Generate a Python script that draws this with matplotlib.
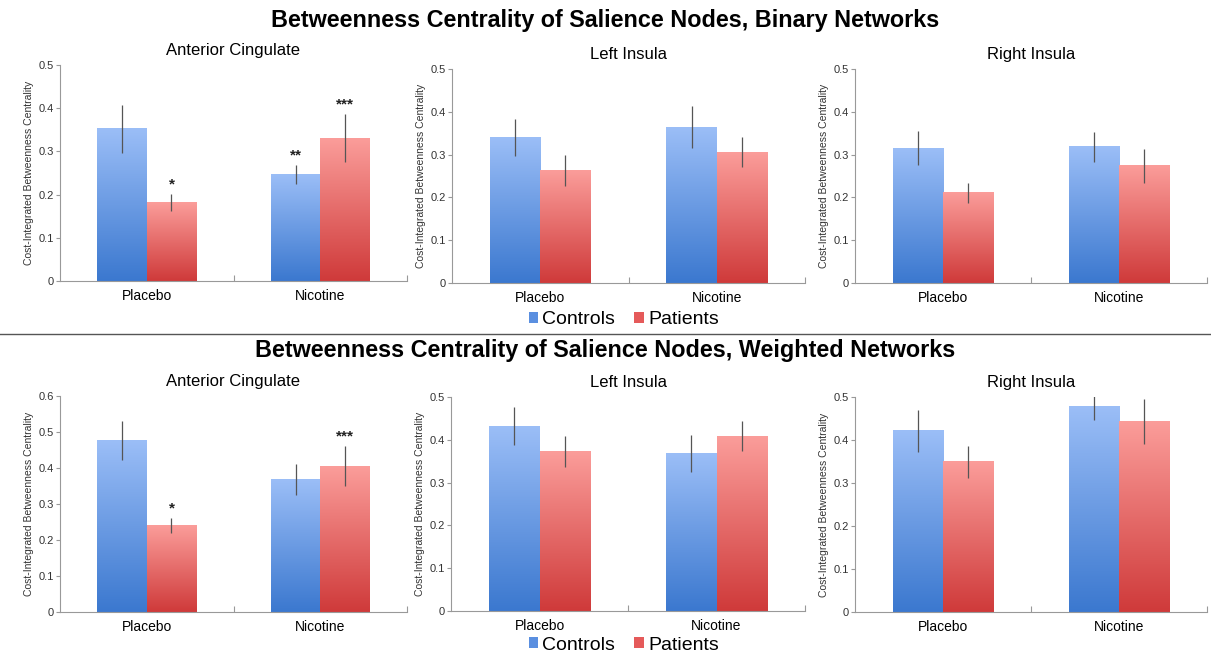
import numpy as np
import matplotlib
matplotlib.use("Agg")
import matplotlib.pyplot as plt
from matplotlib.colors import LinearSegmentedColormap
from matplotlib.patches import Patch

plt.rcParams['font.family'] = ['Liberation Sans', 'DejaVu Sans']

conditions = ['Placebo', 'Nicotine']
regions = ['Anterior Cingulate', 'Left Insula', 'Right Insula']

# binary networks: [placebo, nicotine]
bin_controls = [[0.352, 0.246], [0.340, 0.364], [0.315, 0.318]]
bin_controls_err = [[0.055, 0.022], [0.044, 0.049], [0.039, 0.035]]
bin_patients = [[0.181, 0.331], [0.263, 0.306], [0.211, 0.274]]
bin_patients_err = [[0.020, 0.055], [0.037, 0.035], [0.023, 0.040]]
bin_stars_controls = [['', '**'], ['', ''], ['', '']]
bin_stars_patients = [['*', '***'], ['', ''], ['', '']]

# weighted networks
w_controls = [[0.476, 0.368], [0.432, 0.368], [0.421, 0.478]]
w_controls_err = [[0.054, 0.042], [0.044, 0.043], [0.048, 0.032]]
w_patients = [[0.241, 0.405], [0.372, 0.408], [0.349, 0.443]]
w_patients_err = [[0.021, 0.055], [0.036, 0.035], [0.038, 0.052]]
w_stars_controls = [['', ''], ['', ''], ['', '']]
w_stars_patients = [['*', '***'], ['', ''], ['', '']]

bin_ymax = [0.5, 0.5, 0.5]
w_ymax = [0.6, 0.5, 0.5]

W, H = 1211, 660
blue_cmap = LinearSegmentedColormap.from_list('b', ['#3b78cf', '#9bbef7'])
red_cmap = LinearSegmentedColormap.from_list('r', ['#cf3a3a', '#fb9d9a'])
grad = np.linspace(0, 1, 256).reshape(-1, 1)

fig = plt.figure(figsize=(W / 100, H / 100), dpi=100)


def rect(l, r, top, bot):
    return [l / W, 1 - bot / H, (r - l) / W, (bot - top) / H]


def draw_panel(pos, title, ctrl, ctrl_e, pat, pat_e, s_c, s_p, ymax):
    ax = fig.add_axes(pos)
    x = np.arange(len(conditions))
    bw = 0.285
    for vals, errs, stars, off, cmap in [(ctrl, ctrl_e, s_c, -bw / 2, blue_cmap),
                                         (pat, pat_e, s_p, bw / 2, red_cmap)]:
        bars = ax.bar(x + off, vals, bw, color='none', edgecolor='none')
        for b in bars:
            x0 = b.get_x()
            ax.imshow(grad, extent=[x0, x0 + b.get_width(), 0, b.get_height()],
                      cmap=cmap, aspect='auto', origin='lower', zorder=2)
        ax.errorbar(x + off, vals, yerr=errs, fmt='none', ecolor='#555555',
                    elinewidth=0.9, capsize=0, zorder=3)
        for xi, v, e, s in zip(x + off, vals, errs, stars):
            if s:
                ax.text(xi, v + e + ymax * 0.012, s, ha='center', va='bottom',
                        fontsize=11, fontweight='bold', color='#222222')
    ax.set_xlim(-0.5, 1.5)
    ax.set_ylim(0, ymax)
    ticks = np.round(np.arange(0, ymax + 0.001, 0.1), 1)
    ax.set_yticks(ticks)
    ax.set_yticklabels(['0' if t == 0 else f'{t:.1f}' for t in ticks])
    ax.set_xticks([0.5, 1.5], minor=False)
    ax.set_xticklabels([])
    ax.set_xticks(x, minor=True)
    ax.set_xticklabels(conditions, minor=True, fontsize=10)
    ax.tick_params(axis='x', which='minor', length=0, pad=6)
    ax.tick_params(axis='x', which='major', length=4, direction='in', color='#999999')
    ax.tick_params(axis='y', labelsize=8, length=3, pad=1.5, color='#999999',
                   labelcolor='#333333')
    for sp in ['top', 'right']:
        ax.spines[sp].set_visible(False)
    for sp in ['left', 'bottom']:
        ax.spines[sp].set_color('#999999')
    ax.set_ylabel('Cost-Integrated Betweenness Centrality', fontsize=7.5,
                  color='#333333', labelpad=3)
    ax.set_title(title, fontsize=12, pad=7)
    return ax


top_rects = [rect(60, 407, 65, 281), rect(452, 805, 69, 283), rect(855, 1207, 69, 283)]
bot_rects = [rect(60, 407, 396, 612), rect(451, 805, 397, 611), rect(855, 1207, 397, 612)]

for i in range(3):
    draw_panel(top_rects[i], regions[i], bin_controls[i], bin_controls_err[i],
               bin_patients[i], bin_patients_err[i], bin_stars_controls[i],
               bin_stars_patients[i], bin_ymax[i])
    draw_panel(bot_rects[i], regions[i], w_controls[i], w_controls_err[i],
               w_patients[i], w_patients_err[i], w_stars_controls[i],
               w_stars_patients[i], w_ymax[i])

fig.text(0.5, 1 - 20 / H, 'Betweenness Centrality of Salience Nodes, Binary Networks',
         ha='center', va='center', fontsize=16.8, fontweight='bold')
fig.text(0.5, 1 - 350 / H, 'Betweenness Centrality of Salience Nodes, Weighted Networks',
         ha='center', va='center', fontsize=16.8, fontweight='bold')

fig.add_artist(plt.Line2D([0, 1], [1 - 334 / H, 1 - 334 / H], color='#555555', lw=1))

handles = [Patch(facecolor='#5a8fe0', label='Controls'),
           Patch(facecolor='#e55a5a', label='Patients')]
for yc in [320, 645]:
    fig.legend(handles=handles, loc='center', bbox_to_anchor=(0.515, 1 - yc / H),
               ncol=2, frameon=False, fontsize=14, handlelength=0.5, handleheight=0.5,
               handletextpad=0.2, columnspacing=1.0)

fig.savefig('out.png', dpi=100)
